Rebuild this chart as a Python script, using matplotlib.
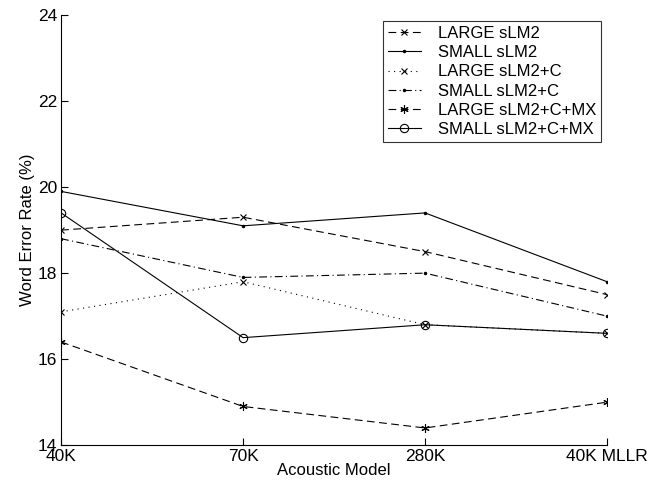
import matplotlib
matplotlib.use("Agg")
import matplotlib.pyplot as plt

plt.rcParams['font.family'] = ['Liberation Sans', 'DejaVu Sans']

# acoustic models on the x axis
models = ["40K", "70K", "280K", "40K MLLR"]

# word error rate (%) per system
large_slm2 = [19.0, 19.3, 18.5, 17.5]
small_slm2 = [19.9, 19.1, 19.4, 17.8]
large_slm2_c = [17.1, 17.8, 16.8, 16.6]
small_slm2_c = [18.8, 17.9, 18.0, 17.0]
large_slm2_c_mx = [16.4, 14.9, 14.4, 15.0]
small_slm2_c_mx = [19.4, 16.5, 16.8, 16.6]

yticks = [14, 16, 18, 20, 22, 24]

fig = plt.figure(figsize=(6.57, 4.86), dpi=100)
ax = fig.add_axes([0.093, 0.084, 0.831, 0.885])

x = list(range(len(models)))
dash = (0, (7, 4))
ax.plot(x, large_slm2, color='k', ls=dash, lw=0.8, marker='x', ms=4, mew=0.8, label="LARGE sLM2")
ax.plot(x, small_slm2, color='k', ls='-', lw=0.8, marker='.', ms=3, label="SMALL sLM2")
ax.plot(x, large_slm2_c, color='k', ls=(0, (1, 4)), lw=0.8, marker='x', ms=4, mew=0.8, label="LARGE sLM2+C")
ax.plot(x, small_slm2_c, color='k', ls=(0, (7, 3, 1, 3)), lw=0.8, marker='.', ms=3, label="SMALL sLM2+C")
ax.plot(x, large_slm2_c_mx, color='k', ls=dash, lw=0.8, marker=(6, 2, 0), ms=6, mew=0.8, label="LARGE sLM2+C+MX")
ax.plot(x, small_slm2_c_mx, color='k', ls='-', lw=0.8, marker='o', ms=6, mfc='none', mew=0.8, label="SMALL sLM2+C+MX")

ax.set_xlim(0, 3)
ax.set_ylim(14, 24)
ax.set_xticks(x)
ax.set_xticklabels(models)
ax.set_yticks(yticks)
ax.tick_params(direction='in', length=5, labelsize=12.5, width=0.8)
ax.tick_params(axis='x', pad=3)
ax.tick_params(axis='y', pad=3)
ax.spines['top'].set_visible(False)
ax.spines['right'].set_visible(False)
for s in ('left', 'bottom'):
    ax.spines[s].set_linewidth(0.8)

ax.set_xlabel("Acoustic Model", fontsize=12, labelpad=-1)
ax.set_ylabel("Word Error Rate (%)", fontsize=12, labelpad=2)

leg = ax.legend(loc='upper right', bbox_to_anchor=(0.989, 0.986), fontsize=12, frameon=True, fancybox=False,
                edgecolor='k', handlelength=2.0, handletextpad=1.0, labelspacing=0.25, borderpad=0.3,
                borderaxespad=0.0)
leg.get_frame().set_linewidth(0.8)

fig.savefig("out.png", dpi=100)
